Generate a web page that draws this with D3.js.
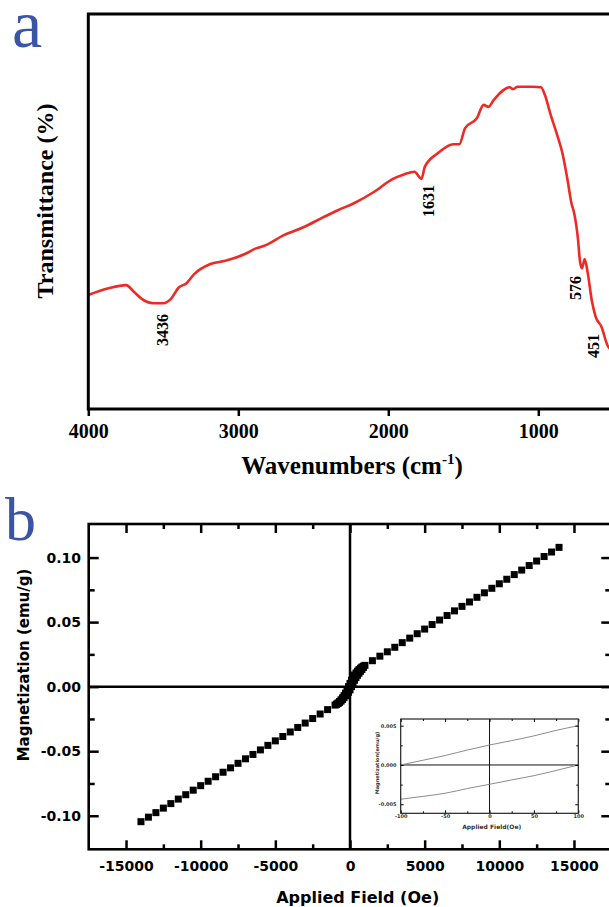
<!DOCTYPE html>
<html><head><meta charset="utf-8">
<script src="https://cdn.jsdelivr.net/npm/d3@7"></script>
<style>html,body{margin:0;padding:0;background:#fff;overflow:hidden}</style>
</head><body><svg id="c" width="609" height="907"></svg>
<script>
// ---------- Panel a: FTIR ----------
const irWavenumber = [4000,3865,3748,3696,3644,3566,3501,3449,3397,3345,3294,3190,3086,2956,2878,2826,2696,2566,2436,2332,2229,2099,1969,1891,1826,1779,1756,1670,1566,1527,1488,1410,1364,1333,1294,1190,1169,1138,1034,982,956,917,878,839,805,779,761,735,722,709,691,670,644,618,579,540,500,450];
const irTransmittance = [28.6,30.3,31.1,29.4,27.6,26.5,26.5,27.6,30.5,31.6,33.9,36.4,37.3,39.0,40.5,41.1,43.8,45.8,48.3,50.2,51.9,54.7,58.1,59.3,59.9,58.1,61.2,64.6,66.9,66.9,71.0,73.5,76.9,76.4,78.3,81.4,80.9,81.5,81.5,81.4,79.4,74.3,69.7,64.6,57.8,51.9,49.4,42.6,37.1,35.4,37.7,34.1,27.3,23.1,20.5,15.9,14.1,12.1];
const irTickValues = [4000,3000,2000,1000];
const irTickLabels = ["4000","3000","2000","1000"];
const irPeakLabels = ["3436","1631","576","451"];
const irPeakWavenumber = [3469,1695,716,595];
const irPeakTrans = [19.7,52.5,30.4,15.6];

// ---------- Panel b: VSM ----------
const vsmFieldNeg = [-14000,-13500,-13000,-12500,-12000,-11500,-11000,-10500,-10000,-9500,-9000,-8500,-8000,-7500,-7000,-6500,-6000,-5500,-5000,-4500,-4000,-3500,-3000,-2500,-2000,-1500,-1000];
const vsmMagNeg = [-0.1046,-0.1011,-0.0976,-0.0941,-0.0906,-0.0871,-0.0837,-0.0802,-0.0767,-0.0733,-0.0698,-0.0663,-0.0629,-0.0594,-0.0559,-0.0525,-0.0490,-0.0455,-0.0420,-0.0386,-0.0351,-0.0316,-0.0282,-0.0247,-0.0212,-0.0178,-0.0143];
const vsmFieldPos = [1000,1500,2000,2500,3000,3500,4000,4500,5000,5500,6000,6500,7000,7500,8000,8500,9000,9500,10000,10500,11000,11500,12000,12500,13000,13500,14000];
const vsmMagPos = [0.0165,0.0201,0.0236,0.0270,0.0305,0.0341,0.0376,0.0410,0.0446,0.0481,0.0516,0.0551,0.0587,0.0622,0.0656,0.0692,0.0727,0.0762,0.0797,0.0832,0.0868,0.0903,0.0938,0.0973,0.1008,0.1043,0.1079];
const clusterField = [-900,-800,-700,-600,-500,-400,-300,-200,-100,0,100,200,300,400,500,600,700,800,900];
const clusterMagDown = [-0.0136,-0.0126,-0.0115,-0.0102,-0.0087,-0.0070,-0.0050,-0.0026,0.0000,0.0025,0.0050,0.0072,0.0090,0.0106,0.0120,0.0132,0.0143,0.0152,0.0159];
const clusterMagUp = [-0.0137,-0.0130,-0.0122,-0.0112,-0.0100,-0.0086,-0.0070,-0.0058,-0.0044,-0.0025,0.0000,0.0026,0.0050,0.0070,0.0088,0.0104,0.0119,0.0133,0.0149];
const vsmXMajor = [-15000,-10000,-5000,0,5000,10000,15000];
const vsmXLabels = ["-15000","-10000","-5000","0","5000","10000","15000"];
const vsmXMinor = [-12500,-7500,-2500,2500,7500,12500];
const vsmYMajor = [0.10,0.05,0.00,-0.05,-0.10];
const vsmYLabels = ["0.10","0.05","0.00","-0.05","-0.10"];
const vsmYMinor = [0.075,0.025,-0.025,-0.075];

// inset
const insetField = [-100,-75,-50,-25,0,25,50,75,100];
const insetUpper = [0.0000,0.0006,0.0012,0.0019,0.00254,0.0031,0.0037,0.0044,0.0050];
const insetLower = [-0.00436,-0.0040,-0.0036,-0.0030,-0.00246,-0.0019,-0.00136,-0.0007,0.0000];
const insetXMajor = [-100,-50,0,50,100];
const insetXLabels = ["-100","-50","0","50","100"];
const insetXMinor = [-75,-25,25,75];
const insetYMajor = [0.005,0.000,-0.005];
const insetYLabels = ["0.005","0.000","-0.005"];
const insetYMinor = [0.0025,-0.0025];

const svg = d3.select('#c');
svg.append('rect').attr('width',609).attr('height',907).attr('fill','#fff');
const SERIF = "'Liberation Serif','Times New Roman',serif";
const SANS = "'DejaVu Sans',sans-serif";
const BLUE = "#3a55a5";

// ===== Panel a =====
const ax = d3.scaleLinear().domain([4000,400]).range([88.3,628.3]);
const ay = d3.scaleLinear().domain([0,100]).range([407.5,14]);
const aTop = 14, aBot = 409;
const ga = svg.append('g');
ga.append('path')
  .attr('d', d3.line().curve(d3.curveMonotoneX)(irWavenumber.map((w,i)=>[ax(w), ay(irTransmittance[i])])))
  .attr('fill','none').attr('stroke','#ec2b24').attr('stroke-width',2.6).attr('stroke-linejoin','round');
ga.append('rect').attr('x',ax.range()[0]).attr('y',aTop).attr('width',ax.range()[1]-ax.range()[0]).attr('height',aBot-aTop)
  .attr('fill','none').attr('stroke','#000').attr('stroke-width',3);
const axA = ga.append('g').attr('transform',`translate(0,${aBot})`)
  .call(d3.axisBottom(ax).tickValues(irTickValues).tickFormat((d,i)=>irTickLabels[i]).tickSize(7).tickSizeOuter(0).tickPadding(7.3));
axA.select('.domain').remove();
axA.selectAll('line').attr('stroke','#000').attr('stroke-width',2.5);
axA.selectAll('text').attr('font-family',SERIF).attr('font-weight','bold').attr('font-size',20).attr('fill','#000');

irPeakLabels.forEach((t,i)=>{
  ga.append('text').attr('transform',`translate(${ax(irPeakWavenumber[i])},${ay(irPeakTrans[i])}) rotate(-90)`)
    .attr('text-anchor','middle').attr('font-family',SERIF).attr('font-weight','bold').attr('font-size',16).text(t);
});
ga.append('text').attr('transform','translate(53,201) rotate(-90)').attr('text-anchor','middle')
  .attr('font-family',SERIF).attr('font-weight','bold').attr('font-size',24).text('Transmittance (%)');
const wt = ga.append('text').attr('x',352).attr('y',474).attr('text-anchor','middle')
  .attr('font-family',SERIF).attr('font-weight','bold').attr('font-size',25);
wt.append('tspan').text('Wavenumbers (cm');
wt.append('tspan').attr('font-size',15).attr('dy',-10).text('-1');
wt.append('tspan').attr('dy',10).text(')');
svg.append('text').attr('x',12).attr('y',47).attr('font-family',SERIF).attr('font-size',68).attr('fill',BLUE).text('a');

// ===== Panel b =====
const bx = d3.scaleLinear().domain([-17500,17500]).range([88.7,611.3]);
const by = d3.scaleLinear().domain([-0.126,0.126]).range([849.3,524]);
const gb = svg.append('g');
const [bL,bR] = bx.range(); const [bB,bT] = by.range();

function axisPair(g, scale, orient, pos, vals, size, labels, pad, font, fs, sw){
  const mk = orient==='bottom'?d3.axisBottom:orient==='top'?d3.axisTop:orient==='left'?d3.axisLeft:d3.axisRight;
  const a = mk(scale).tickValues(vals).tickSize(size).tickSizeOuter(0).tickPadding(pad)
    .tickFormat(labels?((d,i)=>labels[i]):(()=>''));
  const tr = (orient==='bottom'||orient==='top')?`translate(0,${pos})`:`translate(${pos},0)`;
  const s = g.append('g').attr('transform',tr).call(a);
  s.select('.domain').remove();
  s.selectAll('line').attr('stroke','#000').attr('stroke-width',sw);
  s.selectAll('text').attr('font-family',font).attr('font-weight','bold').attr('font-size',fs).attr('fill','#000');
  return s;
}
// zero lines
gb.append('line').attr('x1',bx(0)).attr('x2',bx(0)).attr('y1',bT).attr('y2',bB).attr('stroke','#000').attr('stroke-width',2.5);
gb.append('line').attr('x1',bL).attr('x2',bR).attr('y1',by(0)).attr('y2',by(0)).attr('stroke','#000').attr('stroke-width',2.5);
// ticks
axisPair(gb,bx,'bottom',bB,vsmXMajor,-9,vsmXLabels,11.3,SANS,14,2.5);
axisPair(gb,bx,'bottom',bB,vsmXMinor,-5,null,0,SANS,14,2.5);
axisPair(gb,bx,'top',bT,vsmXMajor,-9,null,0,SANS,14,2.5);
axisPair(gb,bx,'top',bT,vsmXMinor,-5,null,0,SANS,14,2.5);
axisPair(gb,by,'left',bL,vsmYMajor,-10,vsmYLabels,7.7,SANS,14,2.5);
axisPair(gb,by,'left',bL,vsmYMinor,-6,null,0,SANS,14,2.5);
axisPair(gb,by,'right',bR,vsmYMajor,-10,null,0,SANS,14,2.5);
axisPair(gb,by,'right',bR,vsmYMinor,-6,null,0,SANS,14,2.5);
gb.append('rect').attr('x',bL).attr('y',bT).attr('width',bR-bL).attr('height',bB-bT)
  .attr('fill','none').attr('stroke','#000').attr('stroke-width',2.6);

// squares
const pts = [];
vsmFieldNeg.forEach((h,i)=>pts.push([h,vsmMagNeg[i]]));
vsmFieldPos.forEach((h,i)=>pts.push([h,vsmMagPos[i]]));
clusterField.forEach((h,i)=>{pts.push([h,clusterMagDown[i]]);pts.push([h,clusterMagUp[i]]);});
const SQ = 7;
gb.append('g').selectAll('rect').data(pts).join('rect')
  .attr('x',d=>bx(d[0])-SQ/2).attr('y',d=>by(d[1])-SQ/2).attr('width',SQ).attr('height',SQ).attr('fill','#000');

gb.append('text').attr('transform','translate(29,665) rotate(-90)').attr('text-anchor','middle')
  .attr('font-family',SANS).attr('font-weight','bold').attr('font-size',15).text('Magnetization (emu/g)');
gb.append('text').attr('x',357.7).attr('y',903).attr('text-anchor','middle')
  .attr('font-family',SANS).attr('font-weight','bold').attr('font-size',16).text('Applied Field (Oe)');
svg.append('text').attr('x',5).attr('y',540).attr('font-family',SERIF).attr('font-size',62).attr('fill',BLUE).text('b');

// ===== Inset =====
const ix = d3.scaleLinear().domain([-100,100]).range([400.7,578.3]);
const iy = d3.scaleLinear().domain([-0.00615,0.00585]).range([813.3,719]);
const gi = svg.append('g');
const [iL,iR] = ix.range(); const [iB,iT] = iy.range();
gi.append('rect').attr('x',iL).attr('y',iT).attr('width',iR-iL).attr('height',iB-iT).attr('fill','#fff');
gi.append('line').attr('x1',ix(0)).attr('x2',ix(0)).attr('y1',iT).attr('y2',iB).attr('stroke','#111').attr('stroke-width',1);
gi.append('line').attr('x1',iL).attr('x2',iR).attr('y1',iy(0)).attr('y2',iy(0)).attr('stroke','#111').attr('stroke-width',1);
const ln = d3.line().curve(d3.curveMonotoneX);
gi.append('path').attr('d',ln(insetField.map((h,i)=>[ix(h),iy(insetUpper[i])]))).attr('fill','none').attr('stroke','#8c8c8c').attr('stroke-width',1);
gi.append('path').attr('d',ln(insetField.map((h,i)=>[ix(h),iy(insetLower[i])]))).attr('fill','none').attr('stroke','#8c8c8c').attr('stroke-width',1);
axisPair(gi,ix,'bottom',iB,insetXMajor,-3,insetXLabels,1.6,SANS,5,1);
axisPair(gi,ix,'bottom',iB,insetXMinor,-2,null,0,SANS,5,1);
axisPair(gi,ix,'top',iT,insetXMajor,-3,null,0,SANS,5,1);
axisPair(gi,ix,'top',iT,insetXMinor,-2,null,0,SANS,5,1);
axisPair(gi,iy,'left',iL,insetYMajor,-3,insetYLabels,4.2,SANS,5,1);
axisPair(gi,iy,'left',iL,insetYMinor,-2,null,0,SANS,5,1);
axisPair(gi,iy,'right',iR,insetYMajor,-3,null,0,SANS,5,1);
axisPair(gi,iy,'right',iR,insetYMinor,-2,null,0,SANS,5,1);
gi.selectAll('text').attr('fill','#333');
gi.append('rect').attr('x',iL).attr('y',iT).attr('width',iR-iL).attr('height',iB-iT).attr('fill','none').attr('stroke','#222').attr('stroke-width',1.2);
gi.append('text').attr('x',491.7).attr('y',828.5).attr('text-anchor','middle')
  .attr('font-family',SANS).attr('font-weight','bold').attr('font-size',6).attr('fill','#333').text('Applied Field(Oe)');
gi.append('text').attr('transform','translate(379,763) rotate(-90)').attr('text-anchor','middle')
  .attr('font-family',SANS).attr('font-weight','bold').attr('font-size',5).attr('fill','#333').text('Magnetization(emu/g)');
</script></body></html>
